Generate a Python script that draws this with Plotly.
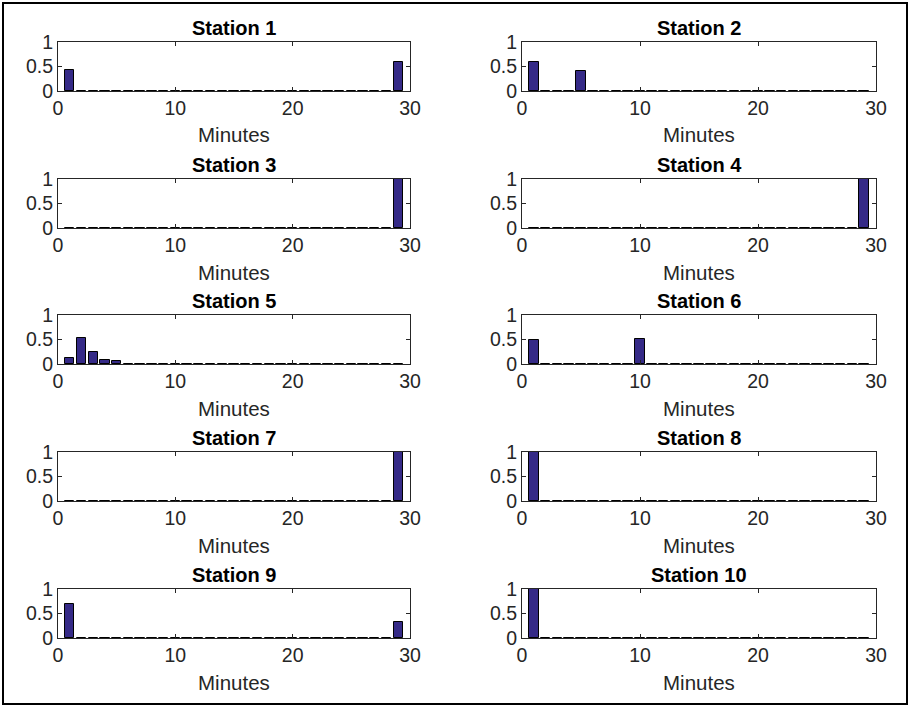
import plotly.graph_objects as go

W, H = 911, 708

minutes = list(range(1, 30))
stations = ["Station 1", "Station 2", "Station 3", "Station 4", "Station 5",
            "Station 6", "Station 7", "Station 8", "Station 9", "Station 10"]

def z(n=29):
    return [0.0] * n

station1 = z(); station1[0] = 0.42; station1[28] = 0.60
station2 = z(); station2[0] = 0.60; station2[4] = 0.40; station2[28] = 0.01
station3 = z(); station3[28] = 1.0
station4 = z(); station4[28] = 1.0
station5 = z(); station5[0] = 0.13; station5[1] = 0.53; station5[2] = 0.25; station5[3] = 0.08
station5[4] = 0.06; station5[7] = 0.01; station5[8] = 0.01; station5[9] = 0.01; station5[28] = 0.01
station6 = z(); station6[0] = 0.50; station6[9] = 0.52; station6[28] = 0.01
station7 = z(); station7[28] = 1.0
station8 = z(); station8[0] = 0.99; station8[28] = 0.01
station9 = z(); station9[0] = 0.69; station9[28] = 0.32
station10 = z(); station10[0] = 0.99; station10[28] = 0.01

series = [station1, station2, station3, station4, station5,
          station6, station7, station8, station9, station10]

x_ticks = [0, 10, 20, 30]
y_ticks = [0, 0.5, 1]
y_ticktext = ["0", "0.5", "1"]

# layout in pixels
col_x = [(58, 410), (522, 876)]
row_top = [42, 179, 315, 452, 589]
ax_h = 49

FONT = "Liberation Sans, Arial, sans-serif"
BAR = "rgb(53,42,135)"
AXC = "#262626"

fig = go.Figure()
layout = dict(width=W, height=H, margin=dict(l=0, r=0, t=0, b=0, autoexpand=False),
              template="none",
              paper_bgcolor="white", plot_bgcolor="white", showlegend=False,
              bargap=0)
annotations = []

for i, (name, vals) in enumerate(zip(stations, series)):
    r, c = divmod(i, 2)
    n = i + 1
    xa = "x" if n == 1 else f"x{n}"
    ya = "y" if n == 1 else f"y{n}"
    fig.add_trace(go.Bar(x=minutes, y=vals, width=0.8, xaxis=xa, yaxis=ya,
                         marker=dict(color=BAR, line=dict(color="black", width=1)),
                         hoverinfo="x+y"))
    x0, x1 = col_x[c]
    top = row_top[r]
    bot = top + ax_h
    xkey = "xaxis" if n == 1 else f"xaxis{n}"
    ykey = "yaxis" if n == 1 else f"yaxis{n}"
    layout[xkey] = dict(domain=[x0 / W, x1 / W], anchor=ya, range=[0, 30],
                        tickvals=x_ticks, ticks="inside", ticklen=4, tickcolor=AXC,
                        showline=True, linecolor=AXC, linewidth=1, mirror="ticks",
                        showgrid=False, zeroline=False, automargin=False,
                        tickfont=dict(family=FONT, size=19.5, color=AXC))
    layout[ykey] = dict(domain=[1 - bot / H, 1 - top / H], anchor=xa, range=[0, 1],
                        tickvals=y_ticks, ticktext=y_ticktext, ticks="inside", ticklen=4,
                        tickcolor=AXC, showline=True, linecolor=AXC, linewidth=1,
                        mirror="ticks", showgrid=False, zeroline=False, automargin=False,
                        tickfont=dict(family=FONT, size=19.5, color=AXC))
    cx = (x0 + x1) / 2 / W
    annotations.append(dict(text=f"<b>{name}</b>", x=cx, y=1 - (top - 14) / H,
                            xref="paper", yref="paper", showarrow=False,
                            xanchor="center", yanchor="middle",
                            font=dict(family=FONT, size=20, color="black")))
    annotations.append(dict(text="Minutes", x=cx, y=1 - (bot + 44) / H,
                            xref="paper", yref="paper", showarrow=False,
                            xanchor="center", yanchor="middle",
                            font=dict(family=FONT, size=20.5, color=AXC)))

layout["annotations"] = annotations
layout["shapes"] = [dict(type="rect", xref="paper", yref="paper",
                         x0=3 / W, x1=907 / W, y0=1 - 704 / H, y1=1 - 3 / H,
                         line=dict(color="black", width=2))]
fig.update_layout(**layout)
fig.write_html("out.html", config={"displayModeBar": False},
               post_script="document.body.style.margin='0';document.body.style.overflow='hidden';")
